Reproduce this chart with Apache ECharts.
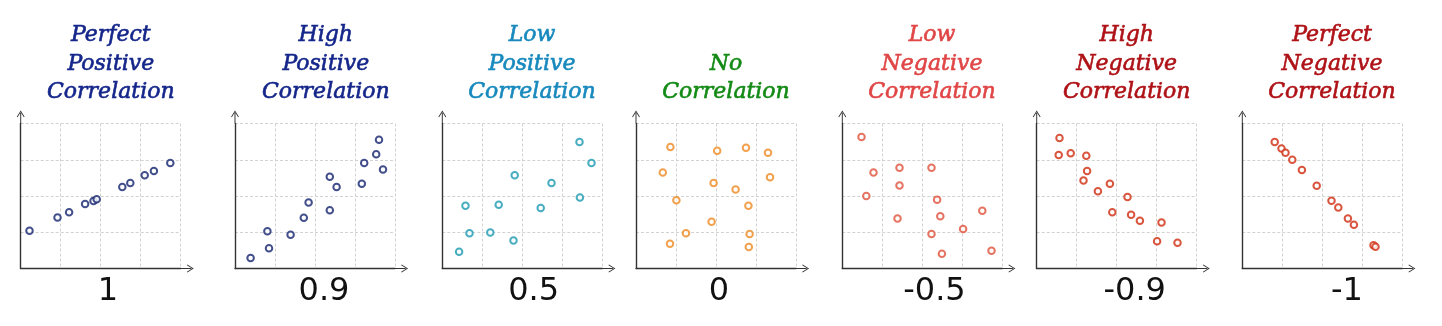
<!DOCTYPE html>
<html>
<head>
<meta charset="utf-8">
<script src="https://cdn.jsdelivr.net/npm/echarts@6/dist/echarts.min.js"></script>
<style>
html,body{margin:0;padding:0;background:#fff;}
#chart{width:1442px;height:326px;}
</style>
</head>
<body>
<div id="chart"></div>
<script>
// ---- data ----
const titles = [
  'Perfect\nPositive\nCorrelation',
  'High\nPositive\nCorrelation',
  'Low\nPositive\nCorrelation',
  'No\nCorrelation',
  'Low\nNegative\nCorrelation',
  'High\nNegative\nCorrelation',
  'Perfect\nNegative\nCorrelation'
];
const coefficientLabels = ['1', '0.9', '0.5', '0', '-0.5', '-0.9', '-1'];
const axisTicks = [0, 1, 2, 3, 4];

const perfectPositive = [
  [0.22, 1.04], [0.92, 1.41], [1.21, 1.55], [1.61, 1.78], [1.82, 1.86], [1.90, 1.91],
  [2.54, 2.25], [2.74, 2.36], [3.10, 2.57], [3.33, 2.69], [3.74, 2.91]
];
const highPositive = [
  [0.39, 0.29], [0.85, 0.56], [0.81, 1.03], [1.39, 0.93], [1.72, 1.40], [1.84, 1.82],
  [2.37, 2.53], [2.54, 2.25], [2.37, 1.61], [3.17, 2.34], [3.23, 2.91], [3.53, 3.15],
  [3.60, 3.55], [3.70, 2.73]
];
const lowPositive = [
  [0.42, 0.46], [0.68, 0.97], [0.58, 1.73], [1.20, 0.99], [1.41, 1.76], [1.78, 0.77],
  [1.81, 2.57], [2.46, 1.67], [2.73, 2.36], [3.44, 1.96], [3.43, 3.49], [3.73, 2.91]
];
const noCorrelation = [
  [0.86, 3.35], [2.03, 3.25], [2.75, 3.33], [3.30, 3.19], [0.67, 2.65], [3.35, 2.52],
  [1.94, 2.36], [2.49, 2.18], [1.01, 1.88], [2.81, 1.73], [1.89, 1.29], [1.25, 0.97],
  [2.84, 0.95], [0.85, 0.68], [2.82, 0.59]
];
const lowNegative = [
  [0.48, 3.63], [0.78, 2.65], [0.60, 2.00], [1.43, 2.78], [1.43, 2.29], [1.38, 1.38],
  [2.23, 2.78], [2.37, 1.90], [2.45, 1.44], [2.23, 0.95], [2.49, 0.41], [3.02, 1.09],
  [3.50, 1.59], [3.73, 0.49]
];
const highNegative = [
  [0.57, 3.60], [0.55, 3.13], [0.85, 3.18], [1.24, 3.11], [1.26, 2.69], [1.17, 2.43],
  [1.53, 2.13], [1.83, 2.34], [1.89, 1.55], [2.27, 1.97], [2.36, 1.48], [2.58, 1.32],
  [3.12, 1.27], [3.01, 0.75], [3.52, 0.71]
];
const perfectNegative = [
  [0.81, 3.49], [0.98, 3.31], [1.08, 3.19], [1.25, 3.00], [1.49, 2.72], [1.86, 2.28],
  [2.23, 1.87], [2.40, 1.68], [2.64, 1.38], [2.79, 1.21], [3.28, 0.64], [3.33, 0.60]
];
const panelData = [perfectPositive, highPositive, lowPositive, noCorrelation, lowNegative, highNegative, perfectNegative];

// ---- styling / layout ----
const titleColors = ['#15268a', '#15268a', '#1789bd', '#138a15', '#e04646', '#ae1217', '#ae1217'];
const markerColors = ['#14236e', '#14236e', '#1a98b0', '#ee8a20', '#e0503a', '#d02a0e', '#d02a0e'];
const gridLefts = [20.7, 235, 442.3, 636, 842.3, 1036.7, 1242.3];
const titleCenters = [110.8, 325.8, 532, 726, 932, 1126.7, 1332];
const labelCenters = [108, 324, 533.7, 719, 934.5, 1134.7, 1347];

const arrowPath = 'path://M4.4 3 L5.6 3 L5.6 16 L4.4 16 Z M5 0 L5.7 0.9 L1.1 8.4 L0.2 7.8 Z M5 0 L9.8 7.8 L8.9 8.4 L4.3 0.9 Z';

const grids = [], xAxes = [], yAxes = [], series = [], titleList = [];
panelData.forEach((pts, i) => {
  grids.push({ left: gridLefts[i], top: 123.5, width: 160, height: 145, outerBoundsMode: 'none' });
  const axisCommon = {
    type: 'value', gridIndex: i,
    min: axisTicks[0], max: axisTicks[axisTicks.length - 1], interval: axisTicks[1] - axisTicks[0],
    axisLabel: { show: false }, axisTick: { show: false },
    splitLine: { show: true, lineStyle: { color: '#d2d2d2', type: [3, 2], width: 1 } },
    axisLine: {
      show: true, onZero: false,
      lineStyle: { color: '#333333', width: 1.4 },
      symbol: ['none', arrowPath], symbolSize: [8, 13], symbolOffset: [0, 6.5]
    }
  };
  xAxes.push(Object.assign({}, axisCommon));
  yAxes.push(Object.assign({}, axisCommon));
  series.push({
    type: 'scatter', xAxisIndex: i, yAxisIndex: i, data: pts,
    symbol: 'circle', symbolSize: 6.5,
    itemStyle: { color: '#ffffff', borderColor: markerColors[i], borderWidth: 2 },
    silent: true
  });
  titleList.push({
    text: titles[i], left: titleCenters[i], top: 106.6, padding: 0,
    textAlign: 'center', textVerticalAlign: 'bottom',
    textStyle: {
      fontFamily: 'DejaVu Serif', fontStyle: 'italic', fontWeight: 'normal', fontSize: 22, lineHeight: 28.5,
      color: titleColors[i], textBorderColor: titleColors[i], textBorderWidth: 0.6
    }
  });
  titleList.push({
    text: coefficientLabels[i], left: labelCenters[i], top: 276, padding: 0,
    textAlign: 'center', textVerticalAlign: 'top',
    textStyle: { fontFamily: 'DejaVu Sans', fontWeight: 'normal', fontSize: 32, lineHeight: 32, color: '#111111' }
  });
});

const chart = echarts.init(document.getElementById('chart'), null, { renderer: 'canvas' });
chart.setOption({
  backgroundColor: '#ffffff',
  animation: false,
  title: titleList,
  grid: grids,
  xAxis: xAxes,
  yAxis: yAxes,
  series: series
});
</script>
</body>
</html>
